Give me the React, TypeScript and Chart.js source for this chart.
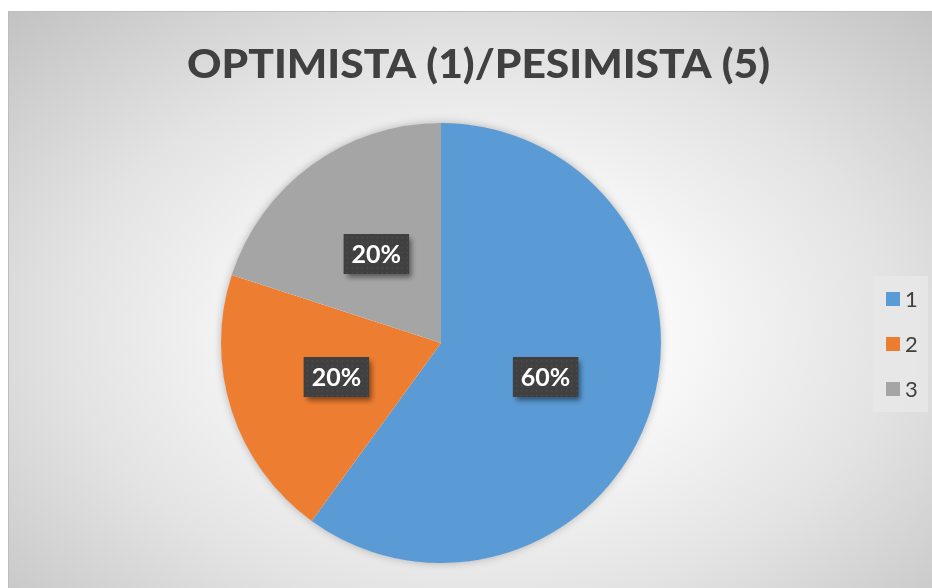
import React, { useEffect, useRef } from "react";
import { Chart, registerables } from "chart.js";

Chart.register(...registerables);

const TITLE = "OPTIMISTA (1)/PESIMISTA (5)";
const categories = ["1", "2", "3"];
const values = [60, 20, 20];
const colors = ["#5B9BD5", "#ED7D31", "#A5A5A5"];

const W = 923;
const H = 576;

const decorPlugin = {
  id: "decor",
  beforeDatasetsDraw(chart: any) {
    const ctx = chart.ctx;
    const meta = chart.getDatasetMeta(0);
    const arc = meta.data[0];
    if (!arc) return;
    ctx.save();
    ctx.shadowColor = "rgba(0,0,0,0.28)";
    ctx.shadowBlur = 9;
    ctx.shadowOffsetX = 0;
    ctx.shadowOffsetY = 0;
    ctx.beginPath();
    ctx.arc(arc.x, arc.y, arc.outerRadius - 0.5, 0, Math.PI * 2);
    ctx.fillStyle = "#ffffff";
    ctx.fill();
    ctx.restore();
  },
  afterDatasetsDraw(chart: any) {
    const ctx = chart.ctx;
    const meta = chart.getDatasetMeta(0);
    const data = chart.data.datasets[0].data as number[];
    const total = data.reduce((a, b) => a + b, 0);
    ctx.save();
    ctx.font = "bold 25px Lato, 'Open Sans', sans-serif";
    meta.data.forEach((el: any, i: number) => {
      const p = el.tooltipPosition();
      const txt = Math.round((data[i] / total) * 100) + "%";
      const tw = ctx.measureText(txt).width;
      const bw = Math.max(tw + 16, 63);
      const bh = 40;
      const x = p.x - bw / 2;
      const y = p.y - bh / 2;
      ctx.save();
      ctx.shadowColor = "rgba(0,0,0,0.45)";
      ctx.shadowBlur = 5;
      ctx.shadowOffsetX = 3;
      ctx.shadowOffsetY = 4;
      ctx.fillStyle = "#404040";
      ctx.fillRect(x, y, bw, bh);
      ctx.restore();
      ctx.fillStyle = "rgba(255,255,255,0.07)";
      for (let yy = y + 3; yy < y + bh - 1; yy += 5) {
        for (let xx = x + 3; xx < x + bw - 1; xx += 5) {
          ctx.fillRect(xx, yy, 1.5, 1.5);
        }
      }
      ctx.fillStyle = "#ffffff";
      ctx.textAlign = "center";
      ctx.textBaseline = "middle";
      ctx.fillText(txt, p.x, p.y + 1);
    });
    ctx.restore();
  },
  afterDraw(chart: any) {
    const ctx = chart.ctx;
    ctx.save();
    ctx.font = "900 40px Lato, 'Open Sans', sans-serif";
    const tw = ctx.measureText(TITLE).width;
    const sx = 583 / tw;
    ctx.translate(469.5, 66);
    ctx.scale(sx, 1);
    ctx.fillStyle = "#404040";
    ctx.textAlign = "center";
    ctx.textBaseline = "alphabetic";
    ctx.fillText(TITLE, 0, 0);
    ctx.restore();

    ctx.save();
    ctx.fillStyle = "rgba(232,232,232,0.85)";
    ctx.fillRect(864, 264, 55, 136);
    const labels = chart.data.labels as string[];
    const bg = chart.data.datasets[0].backgroundColor as string[];
    ctx.font = "22px Lato, 'Open Sans', sans-serif";
    ctx.textBaseline = "middle";
    ctx.textAlign = "left";
    labels.forEach((lab, i) => {
      const cy = 287 + i * 45;
      ctx.fillStyle = bg[i];
      ctx.fillRect(877, cy - 7, 14, 14);
      ctx.fillStyle = "#404040";
      ctx.fillText(lab, 896, cy + 1);
    });
    ctx.restore();
  },
};

export default function App() {
  const ref = useRef<HTMLCanvasElement>(null);
  useEffect(() => {
    if (!ref.current) return;
    const chart = new Chart(ref.current, {
      type: "pie",
      data: {
        labels: categories,
        datasets: [
          {
            data: values,
            backgroundColor: colors,
            borderWidth: 0,
          },
        ],
      },
      options: {
        responsive: false,
        animation: false,
        devicePixelRatio: 1,
        layout: { padding: { top: 111, bottom: 25, left: 212, right: 271 } },
        plugins: {
          legend: { display: false },
          title: { display: false },
          tooltip: { enabled: false },
        },
      },
      plugins: [decorPlugin],
    });
    return () => chart.destroy();
  }, []);
  return (
    <div
      style={{
        position: "fixed",
        left: 8,
        top: 11,
        width: 924,
        height: 577,
        boxSizing: "border-box",
        borderLeft: "1px solid #bdbdbd",
        borderTop: "1px solid #bdbdbd",
        background:
          "radial-gradient(ellipse farthest-corner at 51% 55%, #ffffff 0%, #f8f8f8 30%, #e3e3e3 62%, #c2c2c2 100%)",
        overflow: "hidden",
      }}
    >
      <canvas ref={ref} width={W} height={H} style={{ display: "block", width: W, height: H }} />
    </div>
  );
}
